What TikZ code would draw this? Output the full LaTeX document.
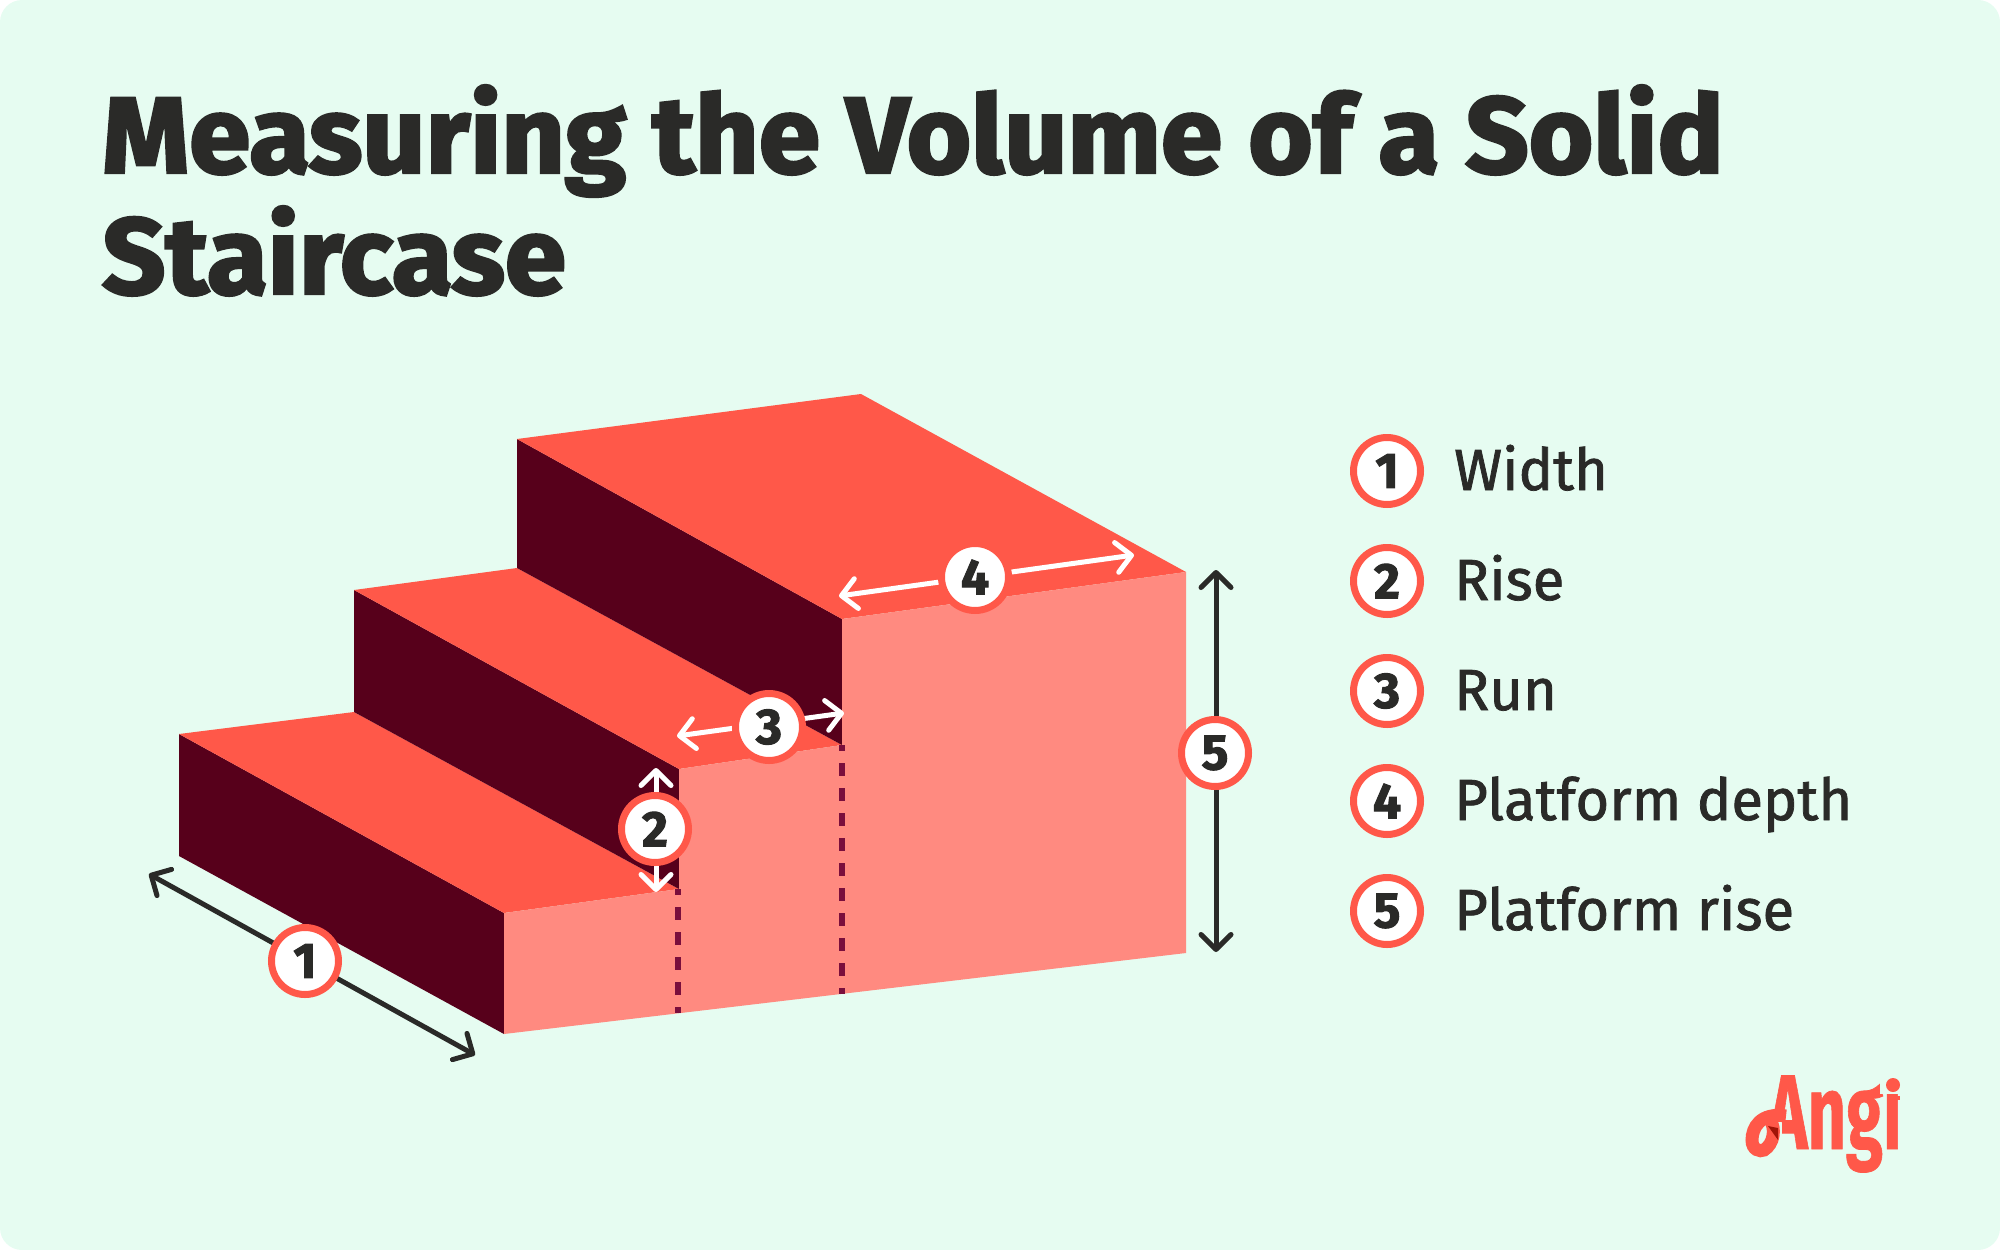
\documentclass[tikz,border=0pt]{standalone}
\usepackage{fontspec}
\usetikzlibrary{arrows.meta}
\setmainfont{Fira Sans}[BoldFeatures={FakeBold=2.6,FakeStretch=1.025}]
\newfontfamily\legfont{Fira Sans}[FakeBold=1.3]
\newfontfamily\numfont{Fira Sans}[BoldFeatures={FakeBold=2}]
\newfontfamily\logofont{Fira Sans}[BoldFeatures={FakeBold=0.8}]
\definecolor{bgc}{HTML}{E6FCF1}
\definecolor{topc}{HTML}{FF5849}
\definecolor{frontc}{HTML}{FF8A80}
\definecolor{darkc}{HTML}{57001B}
\definecolor{dashc}{HTML}{7A0E3C}
\definecolor{inkc}{HTML}{2A2A28}
\definecolor{shadec}{HTML}{A01408}
\tikzset{
  x=1pt,y=-1pt,
  topface/.style={fill=topc},
  frontface/.style={fill=frontc},
  darkface/.style={fill=darkc},
  guide/.style={draw=dashc,line width=6.5pt,dash pattern=on 13pt off 12pt,dash phase=7pt},
  dim/.style={line width=5pt,line cap=round,{Straight Barb[length=15pt,width=30pt,round]}-{Straight Barb[length=15pt,width=30pt,round]}},
  dimdark/.style={dim,draw=inkc},
  dimlight/.style={dim,draw=white},
  badge/.style={circle,draw=topc,fill=white,line width=7pt,minimum size=67pt,inner sep=0pt,text=inkc,font=\numfont\bfseries\fontsize{50}{50}\selectfont},
  legend/.style={anchor=base west,inner sep=0pt,text=inkc,font=\legfont\fontsize{58}{58}\selectfont},
}
\begin{document}
\begin{tikzpicture}
\useasboundingbox (0,0) rectangle (2000,1250);
\fill[bgc,rounded corners=22pt] (0,0) rectangle (2000,1250);
\node[anchor=north west,inner sep=0pt,align=left,text=inkc,font=\bfseries\fontsize{108}{121}\selectfont] (title) at (102,85) {Measuring the Volume of a Solid\\Staircase};
% staircase
\fill[darkface] (179,734) -- (504,913) -- (504,1034) -- (179,856) -- cycle;
\fill[topface] (179,734) -- (354,712) -- (679,889) -- (504,913) -- cycle;
\fill[darkface] (354,590) -- (679,769) -- (679,889) -- (354,712) -- cycle;
\fill[topface] (354,590) -- (517,568) -- (842,745) -- (679,769) -- cycle;
\fill[darkface] (517,439) -- (842,619) -- (842,745) -- (517,568) -- cycle;
\fill[topface] (517,439) -- (861,394) -- (1186,572) -- (842,619) -- cycle;
\fill[frontface] (504,913) -- (679,889) -- (679,769) -- (842,745) -- (842,619) -- (1186,572) -- (1186,953) -- (504,1034) -- cycle;
\draw[guide] (678,889) -- (678,1013);
\draw[guide] (842,745) -- (842,994);
% dimension end points
\coordinate (w1) at (149,874); \coordinate (w2) at (475,1055);
\coordinate (r1) at (656,768); \coordinate (r2) at (656,892);
\coordinate (u1) at (677,736); \coordinate (u2) at (844,713);
\coordinate (p1) at (839,596); \coordinate (p2) at (1134,555);
\coordinate (h1) at (1216,570); \coordinate (h2) at (1216,952);
\draw[dimdark] (w1) -- (w2);
\draw[dimlight] (r1) -- (r2);
\draw[dimlight] (u1) -- (u2);
\draw[dimlight] (p1) -- (p2);
\draw[dimdark] (h1) -- (h2);
\node[badge] (b1) at (305,961) {1};
\node[badge] (b2) at (655,829) {2};
\node[badge] (b3) at (769,727) {3};
\node[badge] (b4) at (975,577) {4};
\node[badge] (b5) at (1215,753) {5};
% legend
\node[badge] (l1) at (1387,471) {1};
\node[badge] (l2) at (1387,581) {2};
\node[badge] (l3) at (1387,691) {3};
\node[badge] (l4) at (1387,801) {4};
\node[badge] (l5) at (1387,911) {5};
\node[legend] (t1) at (1454,490) {Width};
\node[legend] (t2) at (1454,600) {Rise};
\node[legend] (t3) at (1454,710) {Run};
\node[legend] (t4) at (1454,820) {Platform depth};
\node[legend] (t5) at (1454,930) {Platform rise};
% logo
\node[anchor=base west,inner sep=0pt,text=topc,font=\logofont\bfseries\fontsize{106}{106}\selectfont] (logo) at (1768,1149) {\scalebox{0.63}[1]{Angi}};
\fill[bgc] (1762,1122) rectangle (1782,1152);
\fill[bgc] (1880,1060) rectangle (1906,1094);
\fill[topc] (1893,1085) circle (7);
\fill[topc] (1888,1096) rectangle (1900,1100);
\draw[topc,line width=13pt,line cap=butt] (1786,1116) .. controls (1760,1112) and (1752,1128) .. (1752,1140) .. controls (1752,1150) and (1760,1152) .. (1764,1150) .. controls (1774,1144) and (1776,1128) .. (1770,1120);
\fill[shadec] (1768,1126) -- (1778,1128) -- (1778,1140) -- cycle;
\end{tikzpicture}
\end{document}
